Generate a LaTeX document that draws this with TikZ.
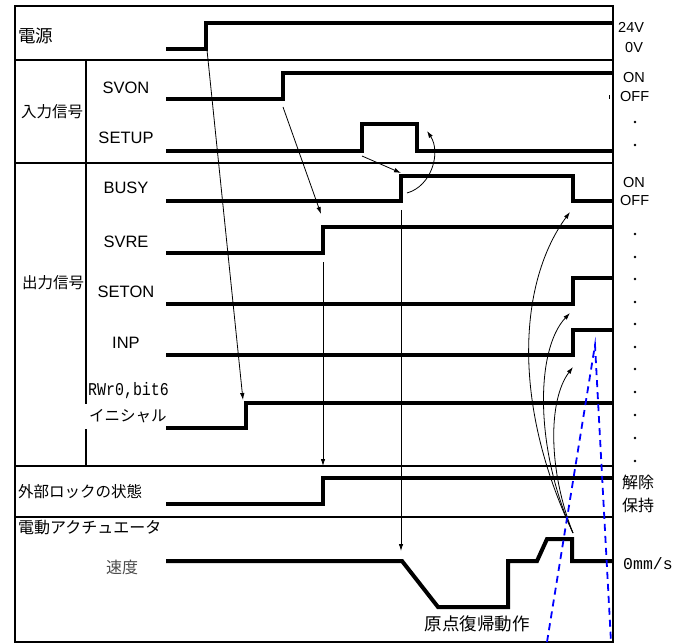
\documentclass[tikz,border=0pt]{standalone}
\usepackage{fontspec}
\setmainfont{Liberation Sans}
\newfontfamily\jp{Noto Sans CJK JP}
\newfontfamily\monof{Liberation Mono}
\usetikzlibrary{arrows.meta}
\begin{document}
\begin{tikzpicture}[x=1pt,y=-1pt,
  sig/.style={line width=4pt},
  frm/.style={line width=1.3pt},
  arr/.style={line width=0.8pt,-{Latex[length=7pt,width=4.5pt]}},
  lbl/.style={font=\fontsize{16.5}{17}\selectfont, inner sep=0pt},
  jlab/.style={font=\jp\fontsize{15.5}{16}\selectfont, inner sep=0pt},
  jbig/.style={font=\jp\fontsize{17.5}{18}\selectfont, inner sep=0pt},
  rlab/.style={font=\fontsize{14.5}{15}\selectfont, inner sep=0pt, anchor=west},
  rj/.style={font=\jp\fontsize{16}{16}\selectfont, inner sep=0pt, anchor=west},
  dotm/.style={fill=black, inner sep=0pt, minimum size=2.6pt, circle},
  bluedash/.style={draw=blue, line width=1.8pt, dash pattern=on 7pt off 5pt}
]
\useasboundingbox (0,0) rectangle (682,644);

% frame
\draw[frm] (15,6) rectangle (613,642);
\draw[line width=2pt] (613,6) -- (613,642);
\draw[frm] (15,60) -- (613,60);
\draw[frm] (15,163) -- (613,163);
\draw[frm] (15,466) -- (613,466);
\draw[frm] (15,517) -- (613,517);
\draw[frm] (86,60) -- (86,404);
\draw[frm] (86,429) -- (86,466);

% signals
\draw[sig] (166,49) -- (206,49) -- (206,23) -- (613,23);
\draw[sig] (166,99) -- (283,99) -- (283,73) -- (613,73);
\draw[sig] (166,151) -- (362,151) -- (362,124) -- (417,124) -- (417,151) -- (613,151);
\draw[sig] (166,201) -- (401,201) -- (401,176) -- (573,176) -- (573,201) -- (613,201);
\draw[sig] (166,253) -- (323,253) -- (323,227) -- (613,227);
\draw[sig] (166,304) -- (573,304) -- (573,278) -- (613,278);
\draw[sig] (166,355) -- (573,355) -- (573,330) -- (613,330);
\draw[sig] (166,428) -- (246,428) -- (246,403) -- (613,403);
\draw[sig] (166,504) -- (323,504) -- (323,478) -- (613,478);
\draw[sig] (166,561) -- (402,561) -- (438,607) -- (508,607) -- (508,561) -- (537,561) -- (547,539) -- (572,539) -- (572,561) -- (613,561);

% left labels
\node[jbig, anchor=west] (tPower) at (18,36) {電源};
\node[jlab, anchor=west] (tIn) at (21,112) {入力信号};
\node[jlab, anchor=west] (tOut) at (22,283) {出力信号};
\node[lbl] (tSVON) at (126,88) {SVON};
\node[lbl] (tSETUP) at (126,138) {SETUP};
\node[lbl] (tBUSY) at (126,188) {BUSY};
\node[lbl] (tSVRE) at (126,242) {SVRE};
\node[lbl] (tSETON) at (126,292) {SETON};
\node[lbl] (tINP) at (126,343) {INP};
\node[inner sep=0pt, anchor=west, font=\monof\fontsize{18}{18}\selectfont] (tRW) at (88,391) {\scalebox{0.83}[1]{RWr0,bit6}};
\node[jlab, anchor=west] (tInit) at (89,416.5) {イニシャル};
\node[jlab, anchor=west] (tLock) at (18,492) {外部ロックの状態};
\node[jlab, anchor=west, font=\jp\fontsize{16}{16}\selectfont] (tAct) at (18,528) {電動アクチュエータ};
\node[jlab, text=black!70, font=\jp\fontsize{16}{16}\selectfont] (tSpeed) at (122,567) {速度};
\node[jbig] (tHome) at (477,624) {原点復帰動作};

% right labels
\node[rlab] (r24) at (618,27) {24V};
\node[rlab] (r0) at (625,48) {0V};
\node[rlab] (rOn1) at (623,78) {ON};
\node[rlab] (rOff1) at (620,97) {OFF};
\node[rlab] (rOn2) at (623,183) {ON};
\node[rlab] (rOff2) at (620,201) {OFF};
\node[rj] (rRel) at (622,482) {解除};
\node[rj] (rHold) at (622,505) {保持};
\node[inner sep=0pt, anchor=west, font=\monof\fontsize{16.5}{16.5}\selectfont] (rSpd) at (623,564) {0mm/s};
\fill (608.5,95) rectangle (610,99);
\foreach \yy [count=\i] in {122,145,234,257,279,302,324,347,369,392,415,438,461}
  \node[dotm] (d\i) at (635,\yy) {};

% connector points
\coordinate (pwrE) at (207,50);
\coordinate (initE) at (243,400);
\coordinate (svonE) at (283,107);
\coordinate (svreE) at (321,214);
\coordinate (setupR) at (362,156);
\coordinate (busyR) at (401,173);
\coordinate (busyS) at (407,193);
\coordinate (setupF) at (427,131);
\coordinate (busyD) at (401,210);
\coordinate (spdStart) at (401,551);
\coordinate (svreD) at (323,262);
\coordinate (lockE) at (323,466);
\coordinate (spdEnd) at (573,533);
\coordinate (busyF) at (570,212);
\coordinate (setonE) at (570,313);
\coordinate (inpE) at (573,367);
\coordinate (bApex) at (595,345);
\coordinate (bL) at (547,642);
\coordinate (bR) at (611,642);

% arrows
\draw[arr] (pwrE) -- (initE);
\draw[arr] (svonE) -- (svreE);
\draw[arr] (setupR) -- (busyR);
\draw[arr] (busyS) .. controls (432,186) and (441,152) .. (setupF);
\draw[arr] (busyD) -- (spdStart);
\draw[arr] (svreD) -- (lockE);
\draw[arr] (spdEnd) .. controls (510,400) and (520,280) .. (busyF);
\draw[arr] (spdEnd) .. controls (535,450) and (535,350) .. (setonE);
\draw[arr] (spdEnd) .. controls (548,470) and (548,400) .. (inpE);

% blue dashed
\draw[bluedash] (bL) -- (bApex) -- (bR);
\end{tikzpicture}
\end{document}
